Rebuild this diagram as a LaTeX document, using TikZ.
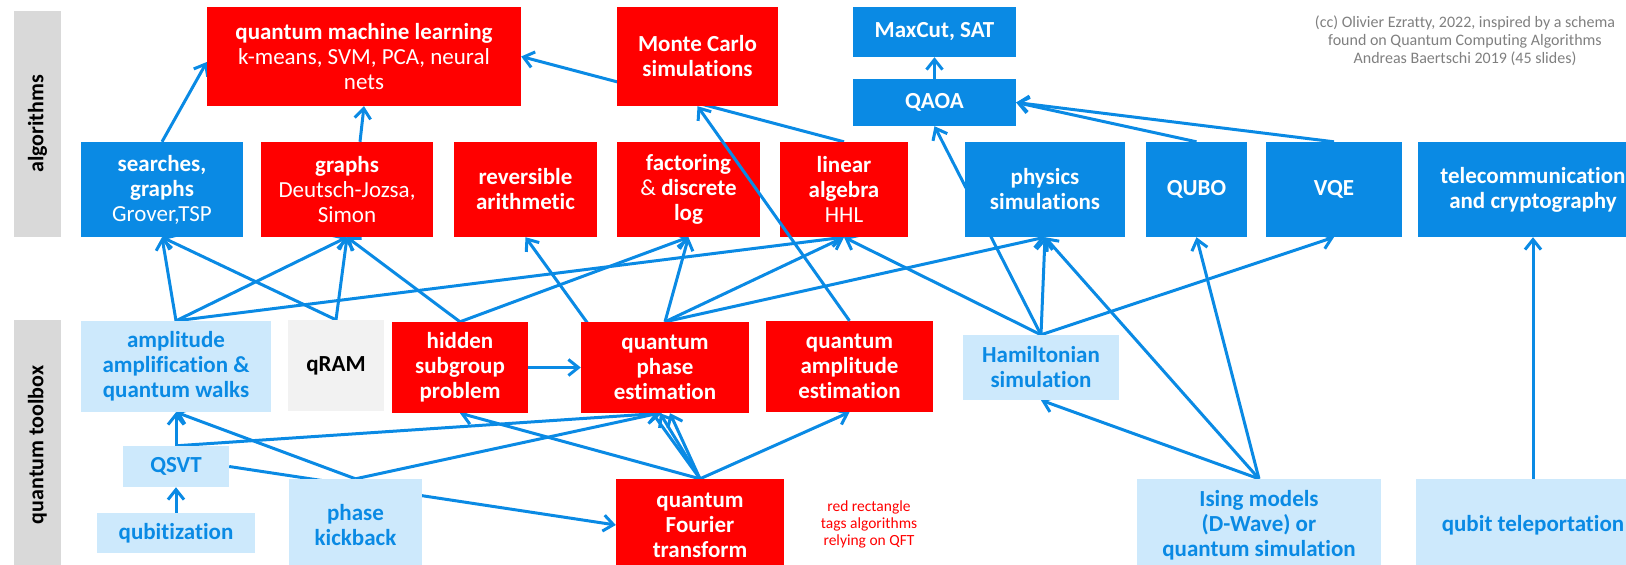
\documentclass[tikz,border=0pt]{standalone}
\usepackage{fontspec}
\setmainfont{Carlito}[Ligatures=NoCommon]
\usepackage{tikz}
\usetikzlibrary{arrows.meta,backgrounds}
\definecolor{qblue}{HTML}{0A8AE4}
\definecolor{qred}{HTML}{FF0000}
\definecolor{qlight}{HTML}{CDE9FC}
\definecolor{qmemfill}{HTML}{F2F2F2}
\definecolor{qband}{HTML}{D9D9D9}
\definecolor{qcred}{HTML}{7F7F7F}
\tikzset{
  >={Straight Barb[length=10pt,width=16pt]},
  qbox/.style={inner sep=0pt, align=center, font=\fontsize{23}{25}\selectfont\bfseries},
  qalgo/.style={qbox, fill=qblue, text=white},
  qqft/.style={qbox, fill=qred, text=white},
  qtool/.style={qbox, fill=qlight, text=qblue},
  qmem/.style={qbox, fill=qmemfill, text=black},
  qside/.style={qbox, fill=qband, text=black, rotate=90,
                font=\fontsize{22}{24}\selectfont\bfseries},
  qlink/.style={->, qblue, line width=3pt},
  qnote/.style={align=center, text=qred, font=\fontsize{15.5}{17}\selectfont},
  qcredit/.style={align=center, text=qcred, font=\fontsize{16}{18}\selectfont},
}

\begin{document}
\begin{tikzpicture}[x=1pt,y=-1pt]
  \useasboundingbox (0,0) rectangle (1626,565);

  % bandes laterales
  \node[qside, minimum width=226, minimum height=47] (bandalg) at (37.5,124) {algorithms};
  \node[qside, minimum width=250, minimum height=47] (bandtool) at (37.5,445) {quantum toolbox};

  % algorithmes
  \node[qqft, minimum width=314, minimum height=99] (qml) at (364,56.5)
    {quantum machine learning\\\mdseries k-means, SVM, PCA, neural\\\mdseries nets};
  \node[qqft, minimum width=161, minimum height=99] (monte) at (697.5,56.5) {Monte Carlo\\simulations};
  \node[qalgo, minimum width=163, minimum height=50] (maxcut) at (934.5,32) {MaxCut, SAT};
  \node[qalgo, minimum width=163, minimum height=47] (qaoa) at (934.5,102.5) {QAOA};

  \node[qalgo, minimum width=162, minimum height=95] (search) at (162,189.5)
    {searches,\\graphs\\\mdseries Grover,TSP};
  \node[qqft, minimum width=172, minimum height=95] (graphs) at (347,189.5)
    {graphs\\\mdseries Deutsch-Jozsa,\\\mdseries Simon};
  \node[qqft, minimum width=143, minimum height=95] (revers) at (525.5,189.5) {reversible\\arithmetic};
  \node[qqft, minimum width=143, minimum height=95] (factor) at (688.5,189.5)
    {factoring\\{\mdseries\&} discrete\\log};
  \node[qqft, minimum width=128, minimum height=95] (linalg) at (844,189.5)
    {linear\\algebra\\\mdseries HHL};
  \node[qalgo, minimum width=160, minimum height=95] (physics) at (1045,189.5) {physics\\simulations};
  \node[qalgo, minimum width=101, minimum height=95] (qubo) at (1196.5,189.5) {QUBO};
  \node[qalgo, minimum width=136, minimum height=95] (vqe) at (1334,189.5) {VQE};
  \node[qalgo, minimum width=230, minimum height=95] (telecom) at (1533,189.5)
    {telecommunication\\and cryptography};

  % boite a outils
  \node[qtool, minimum width=190, minimum height=91] (ampl) at (176,366.5)
    {amplitude\\amplification \&\\quantum walks};
  \node[qmem, minimum width=96, minimum height=91] (qram) at (336,365.5) {qRAM};
  \node[qqft, minimum width=136, minimum height=91] (hsp) at (460,367.5) {hidden\\subgroup\\problem};
  \node[qqft, minimum width=168, minimum height=91] (qpe) at (665,367.5) {quantum\\phase\\estimation};
  \node[qqft, minimum width=167, minimum height=91] (qae) at (849.5,366.5)
    {quantum\\amplitude\\estimation};
  \node[qtool, minimum width=156, minimum height=65] (hamil) at (1041,367.5) {Hamiltonian\\simulation};
  \node[qtool, minimum width=106, minimum height=41] (qsvt) at (176,466.5) {QSVT};
  \node[qtool, minimum width=158, minimum height=40] (qubit) at (176,533) {qubitization};
  \node[qtool, minimum width=133, minimum height=92] (kick) at (355.5,525) {phase\\kickback};
  \node[qqft, minimum width=168, minimum height=92] (qft) at (700,525) {quantum\\Fourier\\transform};
  \node[qtool, minimum width=244, minimum height=92] (ising) at (1259,525)
    {Ising models\\(D-Wave) or\\quantum simulation};
  \node[qtool, minimum width=234, minimum height=92] (telep) at (1533,525) {qubit teleportation};

  % legendes
  \node[qnote] (legend) at (869,524) {red rectangle\\tags algorithms\\relying on QFT};
  \node[qcredit] (credit) at (1465,41)
    {(cc) Olivier Ezratty, 2022, inspired by a schema\\found on Quantum Computing Algorithms\\Andreas Baertschi 2019 (45 slides)};

  \begin{pgfonlayer}{background}
    % vers les algorithmes
    \draw[qlink] (search.north) -- ([yshift=-5.5pt]qml.west);
    \draw[qlink] ([xshift=13pt]graphs.north) -- (qml.south);
    \draw[qlink] (linalg.north) -- (qml.east);
    \draw[qlink] (qaoa.north) -- (maxcut.south);
    \draw[qlink] (hamil.north) -- (qaoa.south);
    \draw[qlink] (qubo.north) -- (qaoa.east);
    \draw[qlink] (vqe.north) -- (qaoa.east);

    % depuis la boite a outils
    \draw[qlink] (ampl.north) -- (search.south);
    \draw[qlink] (qram.north) -- (search.south);
    \draw[qlink] (ampl.north) -- (graphs.south);
    \draw[qlink] (qram.north) -- (graphs.south);
    \draw[qlink] (hsp.north) -- (graphs.south);
    \draw[qlink] (ampl.north) -- (linalg.south);
    \draw[qlink] (hsp.north) -- (factor.south);
    \draw[qlink] (qft.north) -- (revers.south);
    \draw[qlink] (qpe.north) -- (factor.south);
    \draw[qlink] (qpe.north) -- (linalg.south);
    \draw[qlink] (qpe.north) -- (physics.south);
    \draw[qlink] (hamil.north) -- (linalg.south);
    \draw[qlink] (hamil.north) -- (physics.south);
    \draw[qlink] (hamil.north) -- (vqe.south);
    \draw[qlink] (ising.north) -- (physics.south);
    \draw[qlink] (ising.north) -- (qubo.south);
    \draw[qlink] (ising.north) -- (hamil.south);
    \draw[qlink] (telep.north) -- (telecom.south);

    % dans la boite a outils
    \draw[qlink] (hsp.east) -- (qpe.west);
    \draw[qlink] (qsvt.north) -- (ampl.south);
    \draw[qlink] (qsvt.north) -- ([xshift=-3pt]qpe.south);
    \draw[qlink] (kick.north) -- (ampl.south);
    \draw[qlink] (kick.north) -- ([xshift=-6pt]qpe.south);
    \draw[qlink] (qsvt.east) -- (qft.west);
    \draw[qlink] (qft.north) -- (hsp.south);
    \draw[qlink] (qft.north) -- ([xshift=-5pt]qpe.south);
    \draw[qlink] (qft.north) -- ([xshift=5pt]qpe.south);
    \draw[qlink] (qft.north) -- (qae.south);
    \draw[qlink] (qubit.north) -- (qsvt.south);
  \end{pgfonlayer}

  \draw[qlink] (qae.north) -- (monte.south);

\end{tikzpicture}
\end{document}
